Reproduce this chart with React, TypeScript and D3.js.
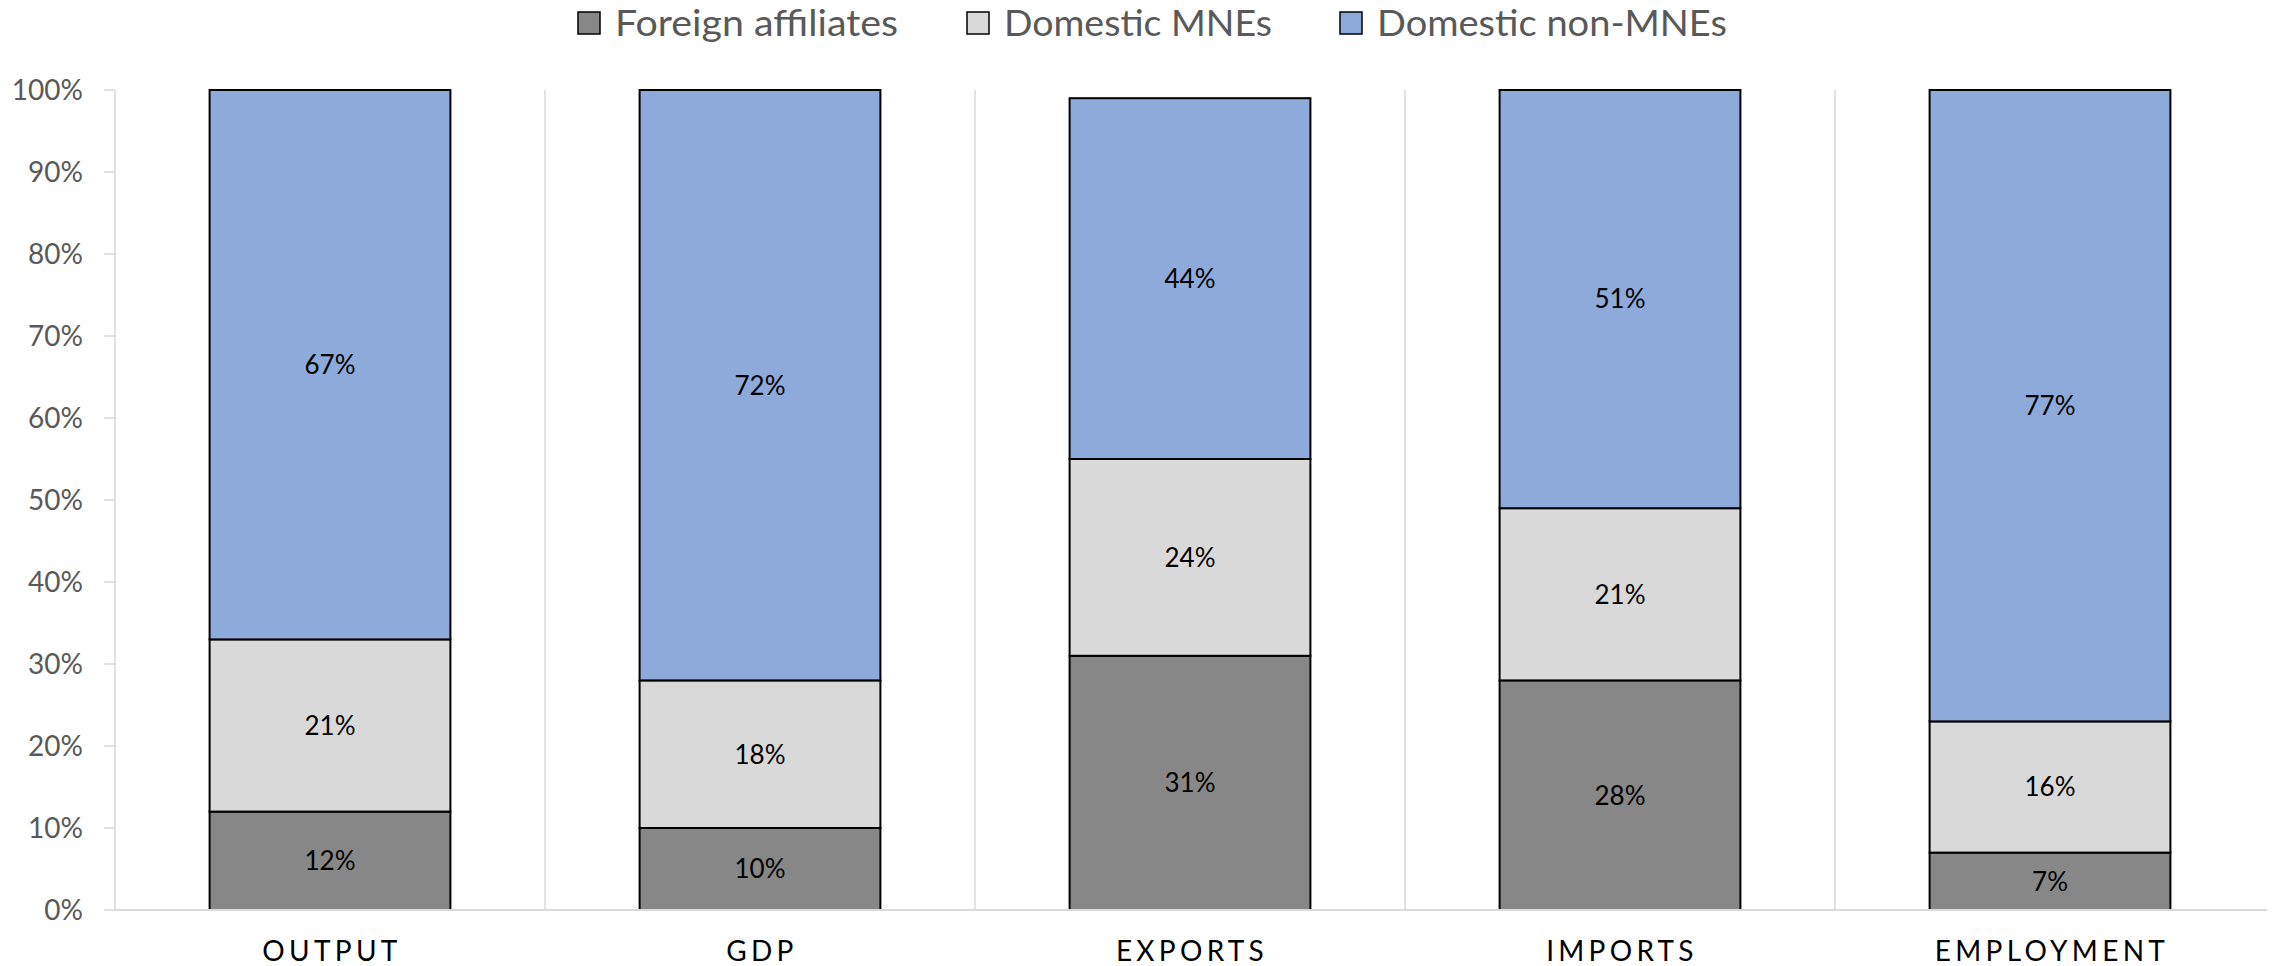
import React from "react";
import * as d3 from "d3";

const categories = ["OUTPUT", "GDP", "EXPORTS", "IMPORTS", "EMPLOYMENT"];
const seriesNames = ["Foreign affiliates", "Domestic MNEs", "Domestic non-MNEs"];
const foreignAffiliates = [12, 10, 31, 28, 7];
const domesticMNEs = [21, 18, 24, 21, 16];
const domesticNonMNEs = [67, 72, 44, 51, 77];
const yTicks = [0, 10, 20, 30, 40, 50, 60, 70, 80, 90, 100];
const colors = ["#878787", "#d9d9d9", "#8eaadb"];

const W = 2272;
const H = 966;
const FONT = "Lato, 'Open Sans', sans-serif";

export default function App() {
  const series = [foreignAffiliates, domesticMNEs, domesticNonMNEs];
  const x = d3
    .scaleBand<string>()
    .domain(categories)
    .range([115, 2265])
    .paddingInner(0.44)
    .paddingOuter(0.22);
  const y = d3.scaleLinear().domain([0, 100]).range([910, 90]);
  const step = x.step();
  const left = 115;

  const table = categories.map((c, i) => {
    const row: any = { cat: c };
    seriesNames.forEach((s, j) => (row[s] = series[j][i]));
    return row;
  });
  const stacked = d3.stack<any>().keys(seriesNames)(table);

  const legendSquares = [578, 967, 1340];
  const legendWidths = [283, 268, 350];

  return (
    <svg
      width={W}
      height={H}
      style={{ position: "absolute", left: 0, top: 0, background: "#fff" }}
    >
      {/* legend */}
      {seriesNames.map((s, i) => (
        <g key={s}>
          <rect
            x={legendSquares[i]}
            y={12}
            width={22}
            height={22}
            fill={colors[i]}
            stroke="#000"
            strokeWidth={1.5}
          />
          <text
            x={legendSquares[i] + 37}
            y={35.5}
            fontFamily={FONT}
            fontSize={37}
            fill="#595959"
            textLength={legendWidths[i]}
            lengthAdjust="spacingAndGlyphs"
          >
            {s}
          </text>
        </g>
      ))}

      {/* separators */}
      {d3.range(1, categories.length).map((k) => (
        <line
          key={k}
          x1={left + k * step}
          x2={left + k * step}
          y1={y(100)}
          y2={y(0)}
          stroke="#d9d9d9"
          strokeWidth={1.5}
        />
      ))}
      <line x1={left} x2={left} y1={y(100)} y2={y(0)} stroke="#d9d9d9" strokeWidth={1.5} />

      {/* y ticks */}
      {yTicks.map((t) => (
        <g key={t}>
          <line x1={left - 11} x2={left} y1={y(t)} y2={y(t)} stroke="#d9d9d9" strokeWidth={1.5} />
          <text
            x={83}
            y={y(t)}
            dy="0.36em"
            textAnchor="end"
            fontFamily={FONT}
            fontSize={28}
            fill="#595959"
          >
            {t}%
          </text>
        </g>
      ))}

      {/* bars */}
      {stacked.map((layer, j) => (
        <g key={layer.key}>
          {layer.map((d, i) => (
            <g key={i}>
              <rect
                x={x(categories[i])}
                y={y(d[1])}
                width={x.bandwidth()}
                height={y(d[0]) - y(d[1])}
                fill={colors[j]}
                stroke="#000"
                strokeWidth={2}
              />
              <text
                x={(x(categories[i]) as number) + x.bandwidth() / 2}
                y={y((d[0] + d[1]) / 2)}
                dy="0.36em"
                textAnchor="middle"
                fontFamily={FONT}
                fontSize={26}
                fill="#000"
              >
                {series[j][i]}%
              </text>
            </g>
          ))}
        </g>
      ))}

      {/* x axis */}
      <line x1={left} x2={2267} y1={y(0)} y2={y(0)} stroke="#d9d9d9" strokeWidth={2} />
      {categories.map((c) => (
        <text
          key={c}
          x={(x(c) as number) + x.bandwidth() / 2 + 2}
          y={961}
          textAnchor="middle"
          fontFamily={FONT}
          fontSize={28}
          letterSpacing={4.3}
          fill="#000"
        >
          {c}
        </text>
      ))}
    </svg>
  );
}
